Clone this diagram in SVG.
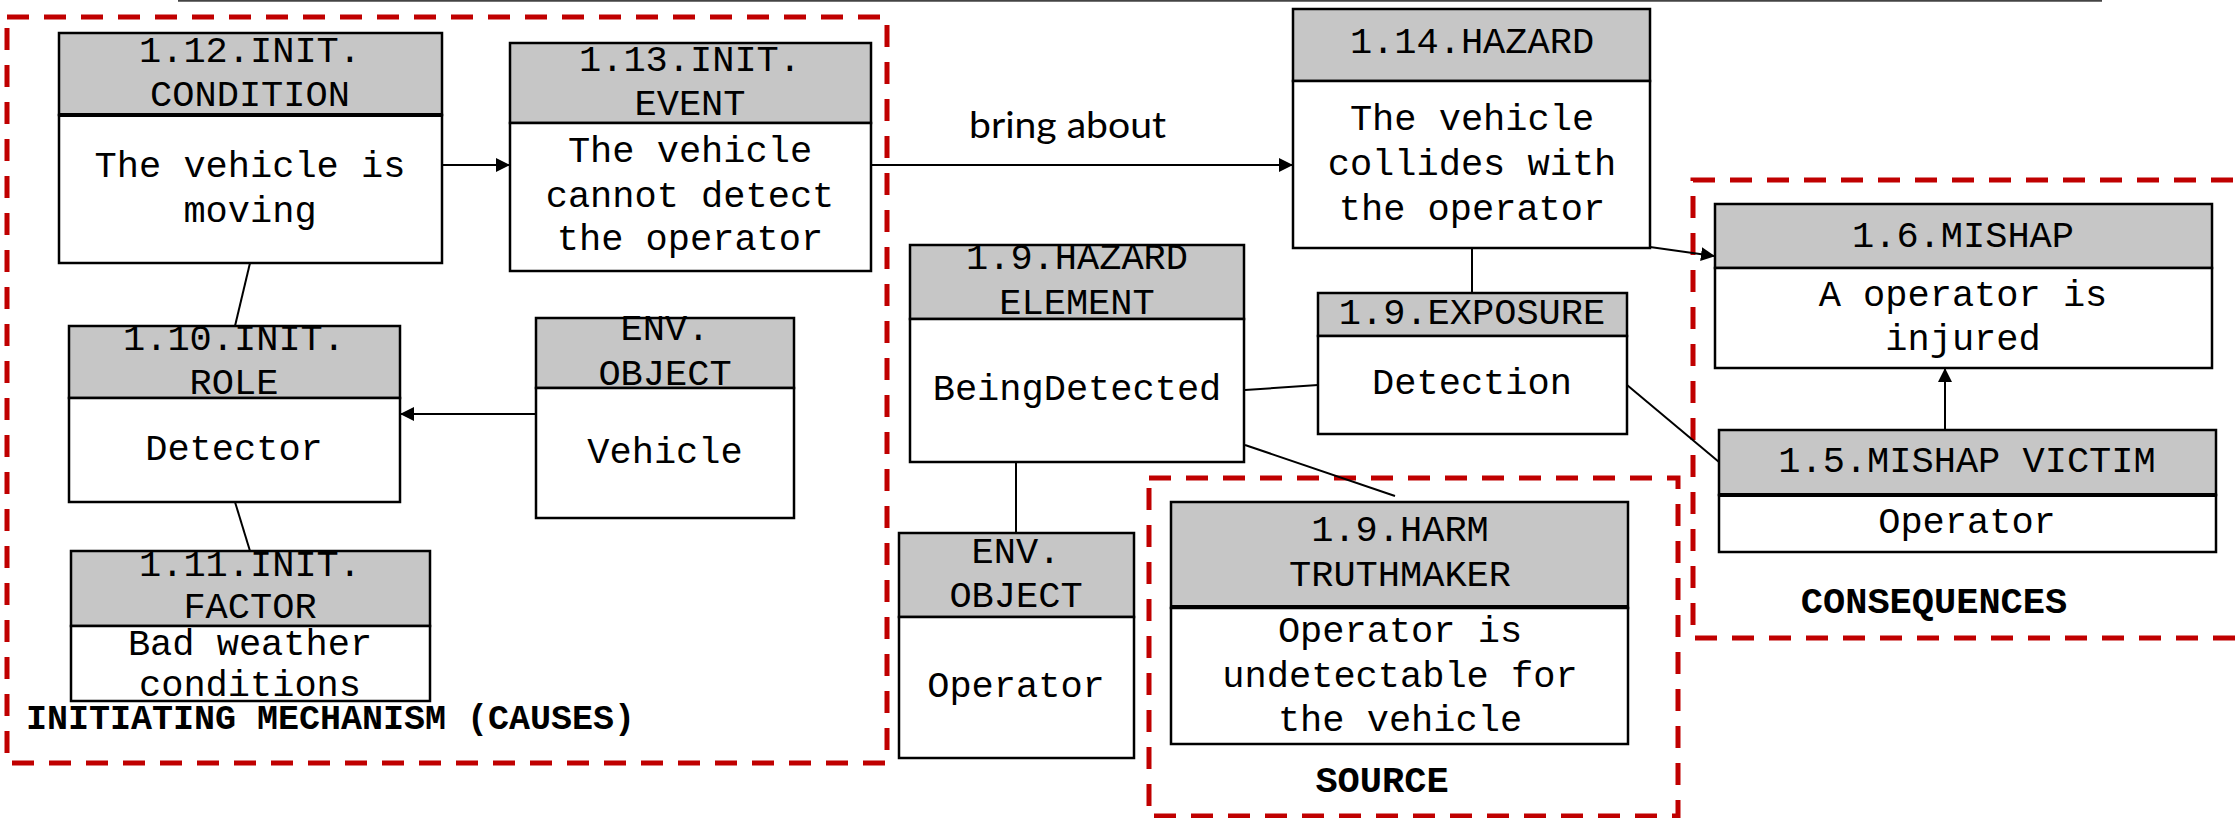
<svg xmlns="http://www.w3.org/2000/svg" width="2239" height="818" viewBox="0 0 2239 818">
  <style>
    .frame { fill: none; stroke: #c00000; stroke-width: 5; stroke-dasharray: 22 15; }
    .hdr { fill: #c6c6c6; stroke: #000; stroke-width: 2.5; }
    .bdy { fill: #fff; stroke: #000; stroke-width: 2.5; }
    .t { font-family: "Liberation Mono", "Courier New", monospace; font-size: 37px; fill: #000; text-anchor: middle; }
    .lbl { font-family: "Liberation Mono", "Courier New", monospace; font-weight: bold; fill: #000; }
    .edge { fill: none; stroke: #000; stroke-width: 2; }
    .rel { font-family: Lato, "Open Sans", sans-serif; font-size: 37px; fill: #000; }
  </style>
  <defs>
    <marker id="arrow" viewBox="0 0 14 14" refX="13" refY="7" markerWidth="14" markerHeight="14" markerUnits="userSpaceOnUse" orient="auto">
      <path d="M0,0 L14,7 L0,14 Z" fill="#000"/>
    </marker>
  </defs>

  <rect width="2239" height="818" fill="#fff"/>
  <line x1="178" y1="0.8" x2="2102" y2="0.8" stroke="#444" stroke-width="2"/>

  <!-- grouping frames -->
  <g id="frames">
    <rect class="frame" x="7" y="17" width="880" height="746"/>
    <rect class="frame" x="1149" y="478" width="529" height="338"/>
    <rect class="frame" x="1693" y="180" width="560" height="458"/>
    <text class="lbl" x="26" y="729" font-size="35">INITIATING MECHANISM (CAUSES)</text>
    <text class="lbl" x="1382" y="792" font-size="37" text-anchor="middle">SOURCE</text>
    <text class="lbl" x="1934" y="613" font-size="37" text-anchor="middle">CONSEQUENCES</text>
  </g>

  <!-- connectors -->
  <g id="connectors">
    <line class="edge" x1="442" y1="165" x2="509" y2="165" marker-end="url(#arrow)"/>
    <line class="edge" x1="871" y1="165" x2="1292" y2="165" marker-end="url(#arrow)"/>
    <text class="rel" x="969" y="138" textLength="197" lengthAdjust="spacingAndGlyphs">bring about</text>
    <line class="edge" x1="250" y1="263" x2="235" y2="326"/>
    <line class="edge" x1="536" y1="414" x2="401" y2="414" marker-end="url(#arrow)"/>
    <line class="edge" x1="235" y1="502" x2="250" y2="551"/>
    <line class="edge" x1="1472" y1="248" x2="1472" y2="293"/>
    <line class="edge" x1="1245" y1="390" x2="1318" y2="385"/>
    <line class="edge" x1="1245" y1="445" x2="1395" y2="496"/>
    <line class="edge" x1="1016" y1="462" x2="1016" y2="533"/>
    <line class="edge" x1="1627" y1="385" x2="1719" y2="462"/>
    <line class="edge" x1="1650" y1="247" x2="1714" y2="256" marker-end="url(#arrow)"/>
    <line class="edge" x1="1945" y1="430" x2="1945" y2="369" marker-end="url(#arrow)"/>
  </g>

  <g id="init-condition">
    <rect class="hdr" x="59" y="33" width="383" height="82"/>
    <rect class="bdy" x="59" y="115" width="383" height="148"/>
    <line x1="59" y1="115" x2="442" y2="115" stroke="#000" stroke-width="4"/>
    <text class="t" x="250" y="62">1.12.INIT.</text>
    <text class="t" x="250" y="106">CONDITION</text>
    <text class="t" x="250" y="177">The vehicle is</text>
    <text class="t" x="250" y="222">moving</text>
  </g>

  <g id="init-event">
    <rect class="hdr" x="510" y="43" width="361" height="80"/>
    <rect class="bdy" x="510" y="123" width="361" height="148"/>
    <text class="t" x="690" y="71">1.13.INIT.</text>
    <text class="t" x="690" y="115">EVENT</text>
    <text class="t" x="690" y="162">The vehicle</text>
    <text class="t" x="690" y="207">cannot detect</text>
    <text class="t" x="690" y="250">the operator</text>
  </g>

  <g id="init-role">
    <rect class="hdr" x="69" y="326" width="331" height="72"/>
    <rect class="bdy" x="69" y="398" width="331" height="104"/>
    <text class="t" x="234" y="350">1.10.INIT.</text>
    <text class="t" x="234" y="394">ROLE</text>
    <text class="t" x="234" y="460">Detector</text>
  </g>

  <g id="env-vehicle">
    <rect class="hdr" x="536" y="318" width="258" height="70"/>
    <rect class="bdy" x="536" y="388" width="258" height="130"/>
    <text class="t" x="665" y="340">ENV.</text>
    <text class="t" x="665" y="385">OBJECT</text>
    <text class="t" x="665" y="463">Vehicle</text>
  </g>

  <g id="init-factor">
    <rect class="hdr" x="71" y="551" width="359" height="75"/>
    <rect class="bdy" x="71" y="626" width="359" height="75"/>
    <text class="t" x="250" y="576" font-size="36">1.11.INIT.</text>
    <text class="t" x="250" y="618" font-size="36">FACTOR</text>
    <text class="t" x="250" y="655" font-size="36">Bad weather</text>
    <text class="t" x="250" y="696" font-size="36">conditions</text>
  </g>

  <g id="hazard">
    <rect class="hdr" x="1293" y="9" width="357" height="72"/>
    <rect class="bdy" x="1293" y="81" width="357" height="167"/>
    <text class="t" x="1472" y="53">1.14.HAZARD</text>
    <text class="t" x="1472" y="130">The vehicle</text>
    <text class="t" x="1472" y="175">collides with</text>
    <text class="t" x="1472" y="220">the operator</text>
  </g>

  <g id="hazard-element">
    <rect class="hdr" x="910" y="245" width="334" height="74"/>
    <rect class="bdy" x="910" y="319" width="334" height="143"/>
    <text class="t" x="1077" y="269">1.9.HAZARD</text>
    <text class="t" x="1077" y="314">ELEMENT</text>
    <text class="t" x="1077" y="400">BeingDetected</text>
  </g>

  <g id="exposure">
    <rect class="hdr" x="1318" y="293" width="309" height="43"/>
    <rect class="bdy" x="1318" y="336" width="309" height="98"/>
    <text class="t" x="1472" y="324">1.9.EXPOSURE</text>
    <text class="t" x="1472" y="394">Detection</text>
  </g>

  <g id="env-operator">
    <rect class="hdr" x="899" y="533" width="235" height="84"/>
    <rect class="bdy" x="899" y="617" width="235" height="141"/>
    <text class="t" x="1016" y="563">ENV.</text>
    <text class="t" x="1016" y="607">OBJECT</text>
    <text class="t" x="1016" y="697">Operator</text>
  </g>

  <g id="harm-truthmaker">
    <rect class="hdr" x="1171" y="502" width="457" height="106"/>
    <rect class="bdy" x="1171" y="608" width="457" height="136"/>
    <line x1="1171" y1="606" x2="1628" y2="606" stroke="#000" stroke-width="2"/>
    <text class="t" x="1400" y="541">1.9.HARM</text>
    <text class="t" x="1400" y="586">TRUTHMAKER</text>
    <text class="t" x="1400" y="642">Operator is</text>
    <text class="t" x="1400" y="687">undetectable for</text>
    <text class="t" x="1400" y="731">the vehicle</text>
  </g>

  <g id="mishap">
    <rect class="hdr" x="1715" y="204" width="497" height="64"/>
    <rect class="bdy" x="1715" y="268" width="497" height="100"/>
    <text class="t" x="1963" y="247">1.6.MISHAP</text>
    <text class="t" x="1963" y="306">A operator is</text>
    <text class="t" x="1963" y="350">injured</text>
  </g>

  <g id="mishap-victim">
    <rect class="hdr" x="1719" y="430" width="497" height="65"/>
    <rect class="bdy" x="1719" y="495" width="497" height="57"/>
    <line x1="1719" y1="495" x2="2216" y2="495" stroke="#000" stroke-width="4"/>
    <text class="t" x="1967" y="472">1.5.MISHAP VICTIM</text>
    <text class="t" x="1967" y="533">Operator</text>
  </g>
</svg>
